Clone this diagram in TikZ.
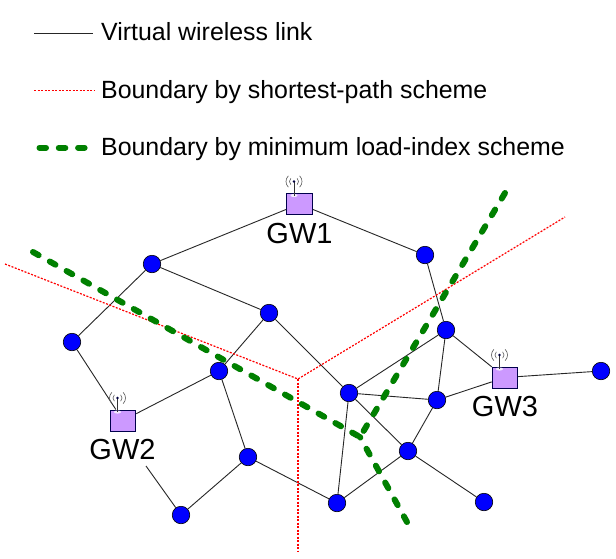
\documentclass[tikz,border=0pt]{standalone}
\usepackage{fontspec}
\setmainfont{Liberation Sans}
\begin{document}
\begin{tikzpicture}[x=1pt,y=-1pt,
  relay/.style={circle,draw=black,line width=0.6pt,fill=blue,minimum size=17.5pt,inner sep=0pt},
  gw/.style={rectangle,draw=black!70!blue,line width=1pt,fill=gwfill,minimum width=25.5pt,minimum height=21pt,inner sep=0pt},
  lnk/.style={draw=black!85,line width=0.9pt},
  redb/.style={draw=red,line width=1.2pt,dash pattern=on 2pt off 1.5pt},
  greenb/.style={draw=green!50!black,line width=6pt,dash pattern=on 6.5pt off 12.8pt,line cap=round},
  lab/.style={font=\fontsize{29}{31}\selectfont,text=black,inner sep=0pt},
  leg/.style={font=\fontsize{24.9}{27}\selectfont,text=black,inner sep=0pt,anchor=base west},
  arcs/.style={draw=black!65,line width=0.6pt}]
\definecolor{gwfill}{HTML}{CC99FF}
\useasboundingbox (0,0) rectangle (616,558);
\fill[white] (0,0) rectangle (616,558);
% boundaries
\coordinate (rc) at (298,379);
\coordinate (r1) at (5,264);
\coordinate (r2) at (565,217);
\coordinate (r3) at (298,552);
\coordinate (gc) at (360,437);
\coordinate (g1) at (33,252);
\coordinate (g2) at (505,193);
\coordinate (g3) at (407,522);
% nodes
\node[gw] (GW1) at (299.5,204) {};
\node[gw] (GW2) at (123,420.5) {};
\node[gw] (GW3) at (505,377.5) {};
\node[relay] (a) at (152,264) {};
\node[relay] (b) at (425,255) {};
\node[relay] (c) at (269,313) {};
\node[relay] (d) at (72,342) {};
\node[relay] (e) at (446,330) {};
\node[relay] (f) at (219,371) {};
\node[relay] (g) at (349,393) {};
\node[relay] (h) at (437,400) {};
\node[relay] (i) at (248,457) {};
\node[relay] (j) at (408,451) {};
\node[relay] (k) at (181,515) {};
\node[relay] (l) at (337,503) {};
\node[relay] (m) at (484,502) {};
\node[relay] (n) at (601,371) {};
\coordinate (kend) at (146,466);
% links
\foreach \p/\q in {GW1/a,GW1/b,a/c,a/d,d/GW2,GW2/f,c/f,f/i,i/k,i/l,l/g,l/j,j/g,j/m,j/h,h/g,h/e,e/g,e/b,e/GW3,h/GW3,GW3/n,c/g}
  \draw[lnk] (\p) -- (\q);
\draw[lnk] (kend) -- (k);
\draw[redb] (r1) -- (rc) -- (r2);
\draw[redb] (rc) -- (r3);
\draw[greenb] (g1) -- (gc);
\draw[greenb] (g2) -- (gc);
\draw[greenb] (g3) -- (gc);
% antennas
\foreach \b in {GW1,GW2,GW3}{
  \path (\b.north) ++(-5.5,-11.5) coordinate (ant);
  \fill[white,opacity=.8] (\b.north) ++(-5.5,2.5) ellipse (3.5pt and 1.6pt);
  \draw[black!80,line width=1pt] (ant) -- ++(0,14);
  \fill[black!75!blue] (ant) circle (1.4pt);
  \foreach \rr in {4.5,8}{
    \draw[arcs] (ant) ++(-45:\rr pt) arc[start angle=-45,end angle=45,radius=\rr pt];
    \draw[arcs] (ant) ++(135:\rr pt) arc[start angle=135,end angle=225,radius=\rr pt];
  }
}
% labels
\node[lab] (t1) at (299.5,233.5) {GW1};
\node[lab] (t2) at (122.5,450) {GW2};
\node[lab] (t3) at (505,407) {GW3};
% legend
\coordinate (l1a) at (34,33.3); \coordinate (l1b) at (93,33.3);
\coordinate (l2a) at (34,90.7); \coordinate (l2b) at (94,90.7);
\coordinate (l3a) at (39.5,147.7); \coordinate (l3b) at (85,147.7);
\draw[lnk] (l1a) -- (l1b);
\draw[redb] (l2a) -- (l2b);
\draw[greenb] (l3a) -- (l3b);
\node[leg] (v1) at (101,40.7) {Virtual wireless link};
\node[leg] (v2) at (101,98.3) {Boundary by shortest-path scheme};
\node[leg] (v3) at (101,155.3) {Boundary by minimum load-index scheme};
\end{tikzpicture}
\end{document}
